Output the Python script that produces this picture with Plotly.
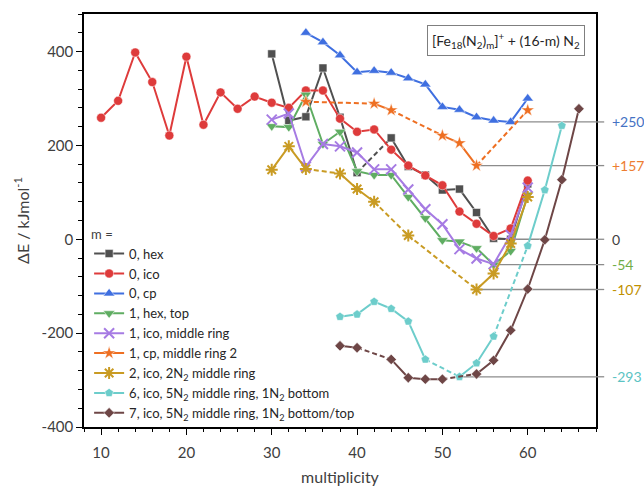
import plotly.graph_objects as go

# ---------------- data ----------------
hex0_x = [30, 32, 34, 36, 38, 40, 44, 46, 48, 50, 52, 54, 56, 58, 60]
hex0_y = [395, 253, 261, 365, 260, 142, 216, 155, 137, 105, 107, 57, 2, 0, 118]

ico0_x = [10, 12, 14, 16, 18, 20, 22, 24, 26, 28, 30, 32, 34, 36, 38, 40, 42, 44, 46, 48, 50, 52, 54, 56, 58, 60]
ico0_y = [259, 295, 398, 335, 221, 389, 244, 313, 278, 304, 291, 280, 317, 317, 257, 229, 234, 191, 157, 136, 115, 59, 33, 7, 23, 125]

cp0_x = [34, 36, 38, 40, 42, 44, 46, 48, 50, 52, 54, 56, 58, 60]
cp0_y = [440, 420, 392, 356, 359, 355, 343, 330, 282, 276, 260, 253, 250, 300]

hex1_x = [30, 32, 34, 36, 38, 40, 42, 44, 46, 48, 50, 52, 54, 56, 58, 60]
hex1_y = [241, 239, 308, 203, 229, 145, 137, 137, 90, 45, -2, -5, -19, -54, -25, 95]

ico1_x = [30, 32, 34, 36, 38, 40, 42, 44, 46, 48, 50, 52, 54, 56, 58, 60]
ico1_y = [255, 268, 155, 203, 198, 185, 149, 149, 106, 64, 32, -21, -41, -53, 9, 110]

cp1_x = [34, 42, 44, 50, 52, 54, 60]
cp1_y = [293, 289, 275, 221, 205, 157, 275]

ico2_x = [30, 32, 34, 38, 40, 42, 46, 54, 56, 58, 60]
ico2_y = [148, 198, 150, 140, 107, 80, 8, -107, -73, -9, 90]

ico6_x = [38, 40, 42, 44, 46, 48, 52, 54, 56, 60, 62, 64]
ico6_y = [-165, -160, -133, -148, -175, -256, -293, -264, -207, -14, 105, 242]

ico7_x = [38, 40, 44, 46, 48, 50, 54, 56, 58, 60, 62, 64, 66]
ico7_y = [-227, -231, -256, -295, -298, -298, -287, -258, -194, -106, -1, 127, 278]

series_names = [
    "0, hex", "0, ico", "0, cp", "1, hex, top", "1, ico, middle ring",
    "1, cp, middle ring 2", "2, ico, 2N<sub>2</sub> middle ring",
    "6, ico, 5N<sub>2</sub> middle ring, 1N<sub>2</sub> bottom",
    "7, ico, 5N<sub>2</sub> middle ring, 1N<sub>2</sub> bottom/top",
]

y_tickvals = [-400, -200, 0, 200, 400]
y_ticktext = ["-400", "-200", "0", "200", "400"]

ref_labels = ["+250", "+157", "0", "-54", "-107", "-293"]
ref_values = [250, 157, 0, -54, -107, -293]
ref_start_x = [58, 54, 56, 56, 54, 52]

# ---------------- styles ----------------
colors = ["#505050", "#DE3B3B", "#3F6FE0", "#5FAD62", "#A67BE3",
          "#EE6F22", "#C99B23", "#6DCDCB", "#6E4646"]
symbols = ["square", "circle", "triangle-up", "triangle-down", "x-thin-open",
           "star", "asterisk-open", "pentagon", "diamond"]
sizes = [8, 9, 10, 10, 10, 10, 10, 9, 8]
ref_colors = ["#4472C4", "#ED7D31", "#404040", "#70AD47", "#BF9000", "#5BC3C3"]

FONT = "Lato"
all_x = [hex0_x, ico0_x, cp0_x, hex1_x, ico1_x, cp1_x, ico2_x, ico6_x, ico7_x]
all_y = [hex0_y, ico0_y, cp0_y, hex1_y, ico1_y, cp1_y, ico2_y, ico6_y, ico7_y]


def split(xs, ys):
    sx, sy, dx, dy = [], [], [], []
    for i in range(len(xs)):
        if i > 0 and xs[i] - xs[i - 1] > 2:
            sx.append(None)
            sy.append(None)
            dx += [xs[i - 1], xs[i], None]
            dy += [ys[i - 1], ys[i], None]
        sx.append(xs[i])
        sy.append(ys[i])
    return sx, sy, dx, dy


fig = go.Figure()
for i, (xs, ys) in enumerate(zip(all_x, all_y)):
    sx, sy, dx, dy = split(xs, ys)
    c = colors[i]
    if dx:
        fig.add_trace(go.Scatter(
            x=dx, y=dy, mode="lines", line=dict(color=c, width=2, dash="5px,3px"),
            showlegend=False, legendgroup=str(i), hoverinfo="skip"))
    open_sym = symbols[i].endswith("open")
    marker = dict(symbol=symbols[i], size=sizes[i], color=c)
    if open_sym:
        marker["line"] = dict(color=c, width=2)
    else:
        marker["line"] = dict(color="white", width=0.5)
    fig.add_trace(go.Scatter(
        x=sx, y=sy, mode="lines+markers", name=series_names[i],
        line=dict(color=c, width=2), marker=marker, legendgroup=str(i),
        connectgaps=False))

shapes = []
annotations = []
for lab, v, x0, rc in zip(ref_labels, ref_values, ref_start_x, ref_colors):
    shapes.append(dict(type="line", xref="x", yref="y", x0=x0, x1=68, y0=v, y1=v,
                       line=dict(color="#8C8C8C", width=1.3), layer="below"))
    shapes.append(dict(type="line", xref="paper", yref="y", x0=1.0, x1=1.016, y0=v, y1=v,
                       line=dict(color="#8C8C8C", width=1.3)))
    annotations.append(dict(xref="paper", yref="y", x=1.028, y=v, text=lab,
                            xanchor="left", yanchor="middle", showarrow=False,
                            font=dict(family=FONT, size=14, color=rc)))

annotations.append(dict(
    xref="paper", yref="paper", x=0.824, y=0.935,
    text="[Fe<sub>18</sub>(N<sub>2</sub>)<sub>m</sub>]<sup>+</sup> + (16-m) N<sub>2</sub>",
    showarrow=False, xanchor="center", yanchor="middle",
    font=dict(family=FONT, size=14, color="#262626"),
    bordercolor="#7F7F7F", borderwidth=1, borderpad=4, bgcolor="white"))

axis_common = dict(
    showgrid=False, zeroline=False, showline=True, linecolor="black", linewidth=1.5,
    mirror=True, ticks="outside", ticklen=6, tickwidth=1.2, tickcolor="black",
    tickfont=dict(family=FONT, size=15, color="#404040"), automargin=False,
)

fig.update_layout(
    width=644, height=486,
    margin=dict(l=84, r=48, t=14, b=59),
    paper_bgcolor="white", plot_bgcolor="white",
    font=dict(family=FONT, color="#404040"),
    xaxis=dict(range=[8, 68], dtick=10, tick0=0, ticklabelstandoff=5,
               minor=dict(dtick=2, ticks="outside", ticklen=3, tickcolor="black"),
               title=dict(text="multiplicity", font=dict(family=FONT, size=16, color="#404040"), standoff=14),
               **axis_common),
    yaxis=dict(range=[-400, 480], tickmode="array", tickvals=y_tickvals, ticktext=y_ticktext,
               minor=dict(dtick=40, tick0=0, ticks="outside", ticklen=4, tickcolor="black"),
               title=dict(text="ΔE / kJmol<sup>-1</sup>", font=dict(family=FONT, size=16, color="#404040"), standoff=8),
               **axis_common),
    legend=dict(x=0.01, y=0.497, xanchor="left", yanchor="top",
                bgcolor="rgba(0,0,0,0)", tracegroupgap=0,
                title=dict(text="m =", font=dict(family=FONT, size=13, color="#404040")),
                font=dict(family=FONT, size=13, color="#262626"),
                itemwidth=30),
    shapes=shapes,
    annotations=annotations,
)

fig.write_html("out.html")
